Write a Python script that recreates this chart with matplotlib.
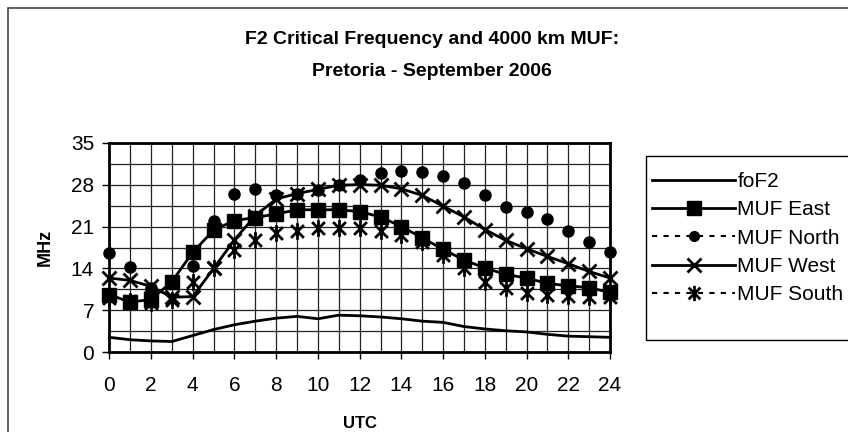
import matplotlib
matplotlib.use('Agg')
import matplotlib.pyplot as plt
from matplotlib.lines import Line2D
from matplotlib.patches import Rectangle
from matplotlib.path import Path
import numpy as np

plt.rcParams['font.family'] = ['Liberation Sans', 'DejaVu Sans']

# hours UTC and frequencies (MHz)
hours = list(range(0, 25))
fof2 = [2.5, 2.1, 1.9, 1.8, 2.8, 3.8, 4.6, 5.2, 5.7, 6.0, 5.6, 6.2, 6.1,
        5.9, 5.6, 5.2, 5.0, 4.3, 3.9, 3.6, 3.4, 3.0, 2.7, 2.6, 2.5]
muf_east = [9.6, 8.4, 8.8, 11.8, 16.7, 20.4, 22.0, 22.5, 23.1, 23.8, 23.8, 23.8, 23.5,
            22.6, 21.0, 19.1, 17.2, 15.4, 14.1, 13.0, 12.4, 11.5, 11.1, 10.8, 10.0]
muf_north = [16.6, 14.3, 10.8, 11.5, 14.4, 21.9, 26.4, 27.2, 26.3, 26.4, 27.1, 27.9, 28.8,
             30.0, 30.2, 30.1, 29.4, 28.3, 26.3, 24.3, 23.4, 22.2, 20.2, 18.5, 16.7]
muf_west = [12.4, 12.0, 11.0, 9.2, 9.3, 14.0, 18.8, 22.8, 25.6, 26.5, 27.2, 27.9, 28.0,
            27.9, 27.3, 26.2, 24.4, 22.6, 20.5, 18.7, 17.3, 16.0, 14.8, 13.5, 12.4]
muf_south = [9.0, 8.5, 8.3, 8.8, 11.8, 14.0, 17.0, 18.8, 19.9, 20.2, 20.8, 20.8, 20.8,
             20.2, 19.6, 18.5, 16.3, 14.0, 11.8, 10.7, 9.9, 9.5, 9.4, 9.3, 9.3]

# excel style star: X with a vertical bar
star = Path([(-1, -1), (1, 1), (-1, 1), (1, -1), (0, -1.3), (0, 1.3)],
            [Path.MOVETO, Path.LINETO, Path.MOVETO, Path.LINETO, Path.MOVETO, Path.LINETO])

W, H = 848, 432
fig = plt.figure(figsize=(W / 100, H / 100), dpi=100)
ax = fig.add_axes([109.3 / W, 1 - 352.3 / H, (610 - 109.3) / W, (352.3 - 142.7) / H])

ax.plot(hours, fof2, color='black', lw=2, clip_on=False, zorder=3)
ax.plot(hours, muf_east, color='black', lw=2, marker='s', ms=10.5, clip_on=False, zorder=3)
ax.plot(hours, muf_north, ls='none', color='black', marker='o', ms=8, clip_on=False, zorder=3)
ax.plot(hours, muf_west, color='black', lw=2, marker='x', ms=10.5, mew=2, clip_on=False, zorder=3)
ax.plot(hours, muf_south, ls='none', color='black', marker=star, ms=12, mew=2,
        clip_on=False, zorder=3)

ax.set_xlim(0, 24)
ax.set_ylim(0, 35)
ax.set_xticks(range(0, 25, 2))
ax.set_xticks(range(0, 25), minor=True)
ax.set_yticks(range(0, 36, 7))
ax.set_yticks(np.arange(0, 35.1, 3.5), minor=True)
ax.grid(True, which='both', color='#222222', lw=0.9)
ax.tick_params(which='minor', length=0)
ax.tick_params(which='major', direction='out', length=5, width=1, labelsize=15, pad=6)
ax.tick_params(axis='x', pad=12)
for s in ax.spines.values():
    s.set_linewidth(2)

# title is centred on the whole chart area, not the plot
fig.text(432 / W, 1 - 40 / H, 'F2 Critical Frequency and 4000 km MUF:', ha='center', va='center',
         fontsize=14, fontweight='bold')
fig.text(432 / W, 1 - 71 / H, 'Pretoria - September 2006', ha='center', va='center',
         fontsize=14, fontweight='bold')
fig.text(45 / W, 1 - 247 / H, 'MHz', rotation=90, ha='center', va='center',
         fontsize=13, fontweight='bold')
fig.text(360 / W, 1 - 431 / H, 'UTC', ha='center', va='bottom', fontsize=12, fontweight='bold')

# chart area border (cut by the picture edge)
fig.patches.append(Rectangle((8 / W, -0.1), 1.0, 1 - 8 / H + 0.1, transform=fig.transFigure,
                             fill=False, edgecolor='#444444', lw=1.2))
# legend box
fig.patches.append(Rectangle((646 / W, 1 - 340 / H), 0.5, (340 - 156) / H, transform=fig.transFigure,
                             fill=False, edgecolor='black', lw=1))

handles = [
    Line2D([], [], color='black', lw=2),
    Line2D([], [], color='black', lw=2, marker='s', ms=10.5),
    Line2D([], [], color='black', lw=1.5, ls=(0, (2.5, 3)), marker='o', ms=7),
    Line2D([], [], color='black', lw=2, marker='x', ms=10.5, mew=2),
    Line2D([], [], color='black', lw=1.5, ls=(0, (2.5, 3)), marker=star, ms=11, mew=2),
]
labels = ['foF2', 'MUF East', 'MUF North', 'MUF West', 'MUF South']
fig.legend(handles, labels, loc='upper left', bbox_to_anchor=(652 / W, 1 - 172 / H),
           frameon=False, fontsize=15, handlelength=4, handletextpad=0.1,
           borderpad=0, borderaxespad=0, labelspacing=0.45, markerscale=1)

fig.savefig('out.png', dpi=100)
